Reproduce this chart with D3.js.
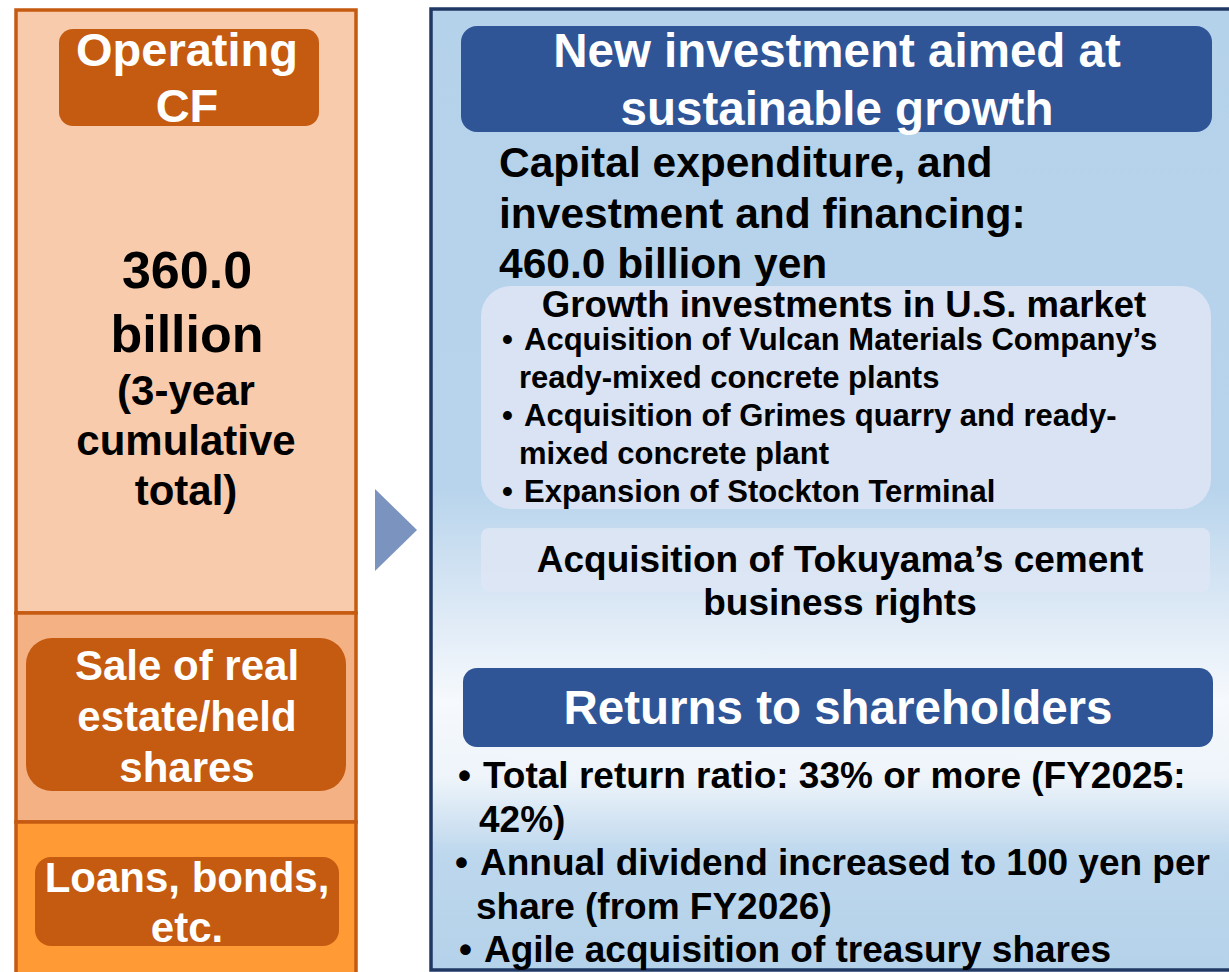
<!DOCTYPE html>
<html lang="en">
  <head>
    <meta charset="UTF-8" />
    <title>Cash allocation</title>
    <script src="https://cdn.jsdelivr.net/npm/d3@7"></script>
    <style>
      html, body { margin: 0; padding: 0; background: #fff; }
      svg { display: block; }
      text { font-family: "Liberation Sans", Arial, sans-serif; font-weight: bold; }
    </style>
  </head>
  <body>
    <svg width="1229" height="972"></svg>
    <script>
      // Sources of cash (left column)
      const sourceLabels = [
        ['Operating', 'CF'],
        ['Sale of real', 'estate/held', 'shares'],
        ['Loans, bonds,', 'etc.']
      ];
      const operatingAmount = ['360.0', 'billion'];
      const operatingNote = ['(3-year', 'cumulative', 'total)'];

      // Uses of cash (right column)
      const investTitle = ['New investment aimed at', 'sustainable growth'];
      const capexLines = ['Capital expenditure, and', 'investment and financing:', '460.0 billion yen'];
      const usGrowthTitle = 'Growth investments in U.S. market';
      const usGrowthItems = [
        ["Acquisition of Vulcan Materials Company\u2019s", 'ready-mixed concrete plants'],
        ['Acquisition of Grimes quarry and ready-', 'mixed concrete plant'],
        ['Expansion of Stockton Terminal']
      ];
      const tokuyamaLines = ['Acquisition of Tokuyama\u2019s cement', 'business rights'];
      const returnsTitle = 'Returns to shareholders';
      const returnsItems = [
        ['Total return ratio: 33% or more (FY2025:', '42%)'],
        ['Annual dividend increased to 100 yen per', 'share (from FY2026)'],
        ['Agile acquisition of treasury shares']
      ];

      const svg = d3.select('svg');
      const defs = svg.append('defs');

      const grad = defs.append('linearGradient')
        .attr('id', 'rightBg')
        .attr('gradientUnits', 'userSpaceOnUse')
        .attr('x1', 0).attr('y1', 9).attr('x2', 0).attr('y2', 970);
      [[0, '#b4d2ea'], [0.5, '#b8d4ec'], [0.62, '#dbe8f5'], [0.72, '#f6f9fd'], [0.8, '#eef4fa'],
       [0.88, '#bdd7ed'], [1, '#b4d2ea']].forEach(([o, c]) =>
        grad.append('stop').attr('offset', o).attr('stop-color', c));

      // helper: draw lines of text
      function lines(g, arr, x, y0, step, size, color, anchor) {
        g.selectAll(null)
          .data(arr)
          .enter()
          .append('text')
          .attr('x', (d, i) => (Array.isArray(x) ? x[i] : x))
          .attr('y', (d, i) => y0 + i * step)
          .attr('text-anchor', anchor || 'middle')
          .attr('font-size', size)
          .attr('fill', color)
          .text((d) => d);
      }

      // ---------- Left column ----------
      const left = svg.append('g');
      const sectionY = [10, 613, 822, 975];
      const sectionFill = ['#f8cbad', '#f4b183', '#ff9a35'];
      left.selectAll('.sec')
        .data(sectionFill)
        .enter()
        .append('rect')
        .attr('x', 16)
        .attr('y', (d, i) => sectionY[i])
        .attr('width', 340)
        .attr('height', (d, i) => sectionY[i + 1] - sectionY[i])
        .attr('fill', (d) => d)
        .attr('stroke', '#c55a11')
        .attr('stroke-width', 3.5);

      const badges = [
        { x: 59, y: 29, w: 260, h: 97, r: 14, y0: 66, step: 56, size: 47 },
        { x: 26, y: 638, w: 320, h: 153, r: 26, y0: 680, step: 51, size: 42 },
        { x: 35, y: 857, w: 304, h: 89, r: 16, y0: 892, step: 50, size: 42 }
      ];
      badges.forEach((b, i) => {
        left.append('rect')
          .attr('x', b.x).attr('y', b.y).attr('width', b.w).attr('height', b.h)
          .attr('rx', b.r).attr('fill', '#c55a11');
        lines(left, sourceLabels[i], 187, b.y0, b.step, b.size, '#fff');
      });
      lines(left, operatingAmount, 187, 288, 64, 52, '#000');
      lines(left, operatingNote, 186, 405, 50, 42, '#000');

      // arrow
      svg.append('path')
        .attr('d', d3.line()([[375, 489], [417, 530], [375, 571]]) + 'Z')
        .attr('fill', '#7b93bf');

      // ---------- Right column ----------
      const right = svg.append('g');
      right.append('rect')
        .attr('x', 431).attr('y', 9).attr('width', 820).attr('height', 961)
        .attr('fill', 'url(#rightBg)')
        .attr('stroke', '#1f3864').attr('stroke-width', 3.5);

      right.append('rect')
        .attr('x', 461).attr('y', 26).attr('width', 751).attr('height', 106)
        .attr('rx', 16).attr('fill', '#2f5597');
      lines(right, investTitle, 837, 67, 58, 47.5, '#fff');

      lines(right, capexLines, 499, 177, 50.5, 42.5, '#000', 'start');

      right.append('rect')
        .attr('x', 481).attr('y', 286).attr('width', 730).attr('height', 223)
        .attr('rx', 30).attr('fill', '#dae3f3');
      lines(right, [usGrowthTitle], 844, 317, 0, 36.5, '#000');

      let yy = 350;
      usGrowthItems.forEach((item) => {
        right.append('text')
          .attr('x', 502).attr('y', yy)
          .attr('font-size', 31).text('\u2022');
        lines(right, item, [524, 519], yy, 38, 31, '#000', 'start');
        yy += item.length * 38;
      });

      right.append('rect')
        .attr('x', 481).attr('y', 528).attr('width', 729).attr('height', 64)
        .attr('rx', 8).attr('fill', '#dde6f4').attr('opacity', 0.9);
      lines(right, tokuyamaLines, 840, 572, 43, 37, '#000');

      right.append('rect')
        .attr('x', 463).attr('y', 668).attr('width', 750).attr('height', 79)
        .attr('rx', 14).attr('fill', '#2f5597');
      lines(right, [returnsTitle], 838, 724, 0, 47.5, '#fff');

      yy = 788;
      const bulletX = [458, 455, 459];
      returnsItems.forEach((item, k) => {
        right.append('text')
          .attr('x', bulletX[k]).attr('y', yy)
          .attr('font-size', 37).text('\u2022');
        lines(right, item, [bulletX[k] + 25, bulletX[k] + 21], yy, 44, 37, '#000', 'start');
        yy += item.length * 44 - (item.length > 1 ? 1 : 0);
      });
    </script>
  </body>
</html>
